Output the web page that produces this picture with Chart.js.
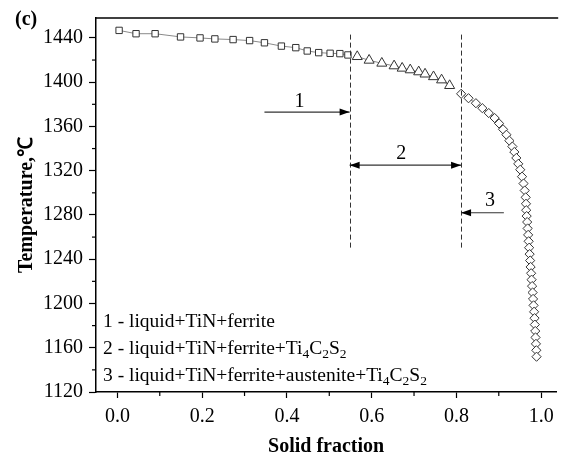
<!DOCTYPE html>
<html><head><meta charset="utf-8">
<script src="https://cdn.jsdelivr.net/npm/chart.js@4"></script>
<style>html,body{margin:0;padding:0;background:#fff;overflow:hidden}#wrap{position:relative;width:563px;height:457px}</style>
</head><body><div id="wrap"><canvas id="c" width="563" height="457"></canvas></div>
<script>
// ---- data ----
const squareX = [0.004,0.044,0.089,0.149,0.195,0.230,0.273,0.312,0.347,0.387,0.421,0.448,0.475,0.502,0.525,0.544];
const squareT = [1446.8,1443.8,1443.8,1440.9,1440.0,1439.1,1438.5,1437.6,1435.6,1432.6,1431.2,1428.2,1426.7,1426.1,1425.8,1424.6];
const triangleX = [0.566,0.594,0.624,0.653,0.672,0.691,0.711,0.726,0.746,0.765,0.784];
const triangleT = [1423.1,1419.8,1417.1,1414.7,1412.6,1411.1,1409.3,1407.3,1404.9,1402.0,1396.9];
const diamondX = [0.8112,0.8286,0.8460,0.8612,0.8763,0.8902,0.9007,0.9100,0.9181,0.9251,0.9321,0.9367,0.9414,0.9460,0.9507,0.9549,0.9584,0.9612,0.9635,0.9642,
  0.9647,0.9658,0.9670,0.9681,0.9693,0.9705,0.9716,0.9728,0.9740,0.9751,0.9763,0.9774,0.9786,0.9798,0.9809,0.9821,0.9833,0.9844,0.9851,0.9860,0.9867,0.9877,0.9886,0.9891];
const diamondT = [1389.5,1385.5,1381.0,1376.5,1372.1,1367.6,1362.7,1357.4,1352.5,1347.1,1341.8,1336.9,1331.5,1326.2,1320.9,1314.6,1308.4,1302.1,1295.9,1290.1,
  1284.3,1279.0,1273.6,1267.8,1262.0,1256.2,1250.4,1244.6,1238.8,1233.0,1227.3,1221.5,1215.7,1209.9,1204.1,1198.3,1192.5,1186.7,1180.9,1175.1,1169.3,1163.5,1157.7,1151.9];

const xMajorTicks = [0,0.2,0.4,0.6,0.8,1.0];
const xMinorTicks = [0.1,0.3,0.5,0.7,0.9];
const yMajorTicks = [1120,1160,1200,1240,1280,1320,1360,1400,1440];
const yMinorTicks = [1140,1180,1220,1260,1300,1340,1380,1420];

const boundaryX = [0.548,0.811];
const boundaryT = [1443,1250];
const arrowLabels = ['1','2','3'];
const arrowFromX = [0.347,0.548,0.912];
const arrowToX = [0.548,0.811,0.811];
const arrowT = [1373,1325,1282];
const arrowDouble = [false,true,false];
const labelX = [0.430,0.670,0.879];
const labelT = [1382.5,1335.5,1292.5];

const legendLines = [
  [{t:'1 - liquid+TiN+ferrite'}],
  [{t:'2 - liquid+TiN+ferrite+Ti'},{t:'4',sub:true},{t:'C'},{t:'2',sub:true},{t:'S'},{t:'2',sub:true}],
  [{t:'3 - liquid+TiN+ferrite+austenite+Ti'},{t:'4',sub:true},{t:'C'},{t:'2',sub:true},{t:'S'},{t:'2',sub:true}]
];
const panelLabel = '(c)';
const xTitle = 'Solid fraction';
const yTitle = 'Temperature,\u2103';

const SERIF = "'Liberation Serif','Times New Roman',serif";
const pts = (xs,ys)=>xs.map((x,i)=>({x:x,y:ys[i]}));

const extras = {
  id:'extras',
  afterDraw(chart){
    const {ctx, chartArea:a, scales:{x,y}} = chart;
    ctx.save();
    // top frame line
    ctx.strokeStyle='#000'; ctx.lineWidth=1.5;
    ctx.beginPath(); ctx.moveTo(a.left, a.top); ctx.lineTo(a.right+2, a.top); ctx.stroke();
    // minor ticks
    ctx.lineWidth=1.2;
    xMinorTicks.forEach(v=>{const px=x.getPixelForValue(v); ctx.beginPath(); ctx.moveTo(px,a.bottom); ctx.lineTo(px,a.bottom+4); ctx.stroke();});
    yMinorTicks.forEach(v=>{const py=y.getPixelForValue(v); ctx.beginPath(); ctx.moveTo(a.left,py); ctx.lineTo(a.left-4,py); ctx.stroke();});
    // dashed boundaries
    ctx.strokeStyle='#333'; ctx.lineWidth=1; ctx.setLineDash([5,3]);
    boundaryX.forEach(v=>{const px=Math.round(x.getPixelForValue(v))+0.5; ctx.beginPath(); ctx.moveTo(px,y.getPixelForValue(boundaryT[0])); ctx.lineTo(px,y.getPixelForValue(boundaryT[1])); ctx.stroke();});
    ctx.setLineDash([]);
    // arrows
    const head=(hx,hy,dir)=>{ctx.beginPath(); ctx.moveTo(hx,hy); ctx.lineTo(hx-dir*10,hy-3.5); ctx.lineTo(hx-dir*10,hy+3.5); ctx.closePath(); ctx.fill();};
    ctx.fillStyle='#000'; ctx.strokeStyle='#333'; ctx.lineWidth=1.2;
    arrowLabels.forEach((lab,i)=>{
      const x1=x.getPixelForValue(arrowFromX[i]), x2=x.getPixelForValue(arrowToX[i]), py=y.getPixelForValue(arrowT[i]);
      ctx.beginPath(); ctx.moveTo(x1,py); ctx.lineTo(x2,py); ctx.stroke();
      const dir = x2>x1?1:-1;
      head(x2,py,dir);
      if(arrowDouble[i]) head(x1,py,-dir);
      ctx.font='20px '+SERIF; ctx.textAlign='center'; ctx.textBaseline='middle';
      ctx.fillText(lab, x.getPixelForValue(labelX[i]), y.getPixelForValue(labelT[i]));
    });
    // legend text
    ctx.textAlign='left'; ctx.textBaseline='middle'; ctx.fillStyle='#000';
    const lineY=[a.top+304, a.top+331, a.top+358];
    legendLines.forEach((segs,i)=>{
      let cx=a.left+7;
      segs.forEach(s=>{
        ctx.font=(s.sub?'13.5px ':'19.5px ')+SERIF;
        ctx.fillText(s.t,cx,lineY[i]+(s.sub?5.5:0));
        cx+=ctx.measureText(s.t).width;
      });
    });
    // panel label
    ctx.font='bold 20px '+SERIF; ctx.textAlign='left'; ctx.textBaseline='middle';
    ctx.fillText(panelLabel,15,20);
    ctx.restore();
  }
};

new Chart(document.getElementById('c'),{
  type:'scatter',
  data:{datasets:[
    {data:pts(squareX,squareT),showLine:true,borderColor:'#8a8a8a',borderWidth:1,pointStyle:'rect',pointRadius:4.5,pointBorderColor:'#333',pointBackgroundColor:'#fff',pointBorderWidth:1},
    {data:pts(triangleX,triangleT),showLine:true,borderColor:'#8a8a8a',borderWidth:1,pointStyle:'triangle',pointRadius:5.8,pointBorderColor:'#333',pointBackgroundColor:'#fff',pointBorderWidth:1},
    {data:pts(diamondX,diamondT),showLine:true,borderColor:'#8a8a8a',borderWidth:1,pointStyle:'rectRot',pointRadius:4.6,pointBorderColor:'#333',pointBackgroundColor:'#fff',pointBorderWidth:1}
  ]},
  options:{
    responsive:false,animation:false,devicePixelRatio:1,
    layout:{padding:{top:13,left:0,right:0,bottom:0}},
    plugins:{legend:{display:false},tooltip:{enabled:false}},
    scales:{
      x:{type:'linear',min:-0.0505,max:1.0355,
        afterBuildTicks:s=>{s.ticks=xMajorTicks.map(v=>({value:v}));},
        afterFit:s=>{s.height=65;},
        ticks:{callback:v=>Number(v).toFixed(1),color:'#000',font:{family:SERIF,size:20},padding:7,maxRotation:0,autoSkip:false},
        grid:{drawOnChartArea:false,tickLength:6,tickColor:'#000',tickWidth:1.2},
        border:{color:'#000',width:1.5},
        title:{display:true,text:xTitle,color:'#000',font:{family:SERIF,size:20,weight:'bold',lineHeight:1.0},padding:{top:0,bottom:0}}
      },
      y:{type:'linear',min:1120,max:1458,
        afterBuildTicks:s=>{s.ticks=yMajorTicks.map(v=>({value:v}));},
        afterFit:s=>{s.width=96;},
        ticks:{callback:v=>String(v),color:'#000',font:{family:SERIF,size:20},padding:6,autoSkip:false},
        grid:{drawOnChartArea:false,tickLength:7,tickColor:'#000',tickWidth:1.2},
        border:{color:'#000',width:1.5},
        title:{display:true,text:yTitle,color:'#000',font:{family:SERIF,size:20,weight:'bold',lineHeight:1.2},padding:{top:15,bottom:0}}
      }
    }
  },
  plugins:[extras]
});
</script></body></html>
